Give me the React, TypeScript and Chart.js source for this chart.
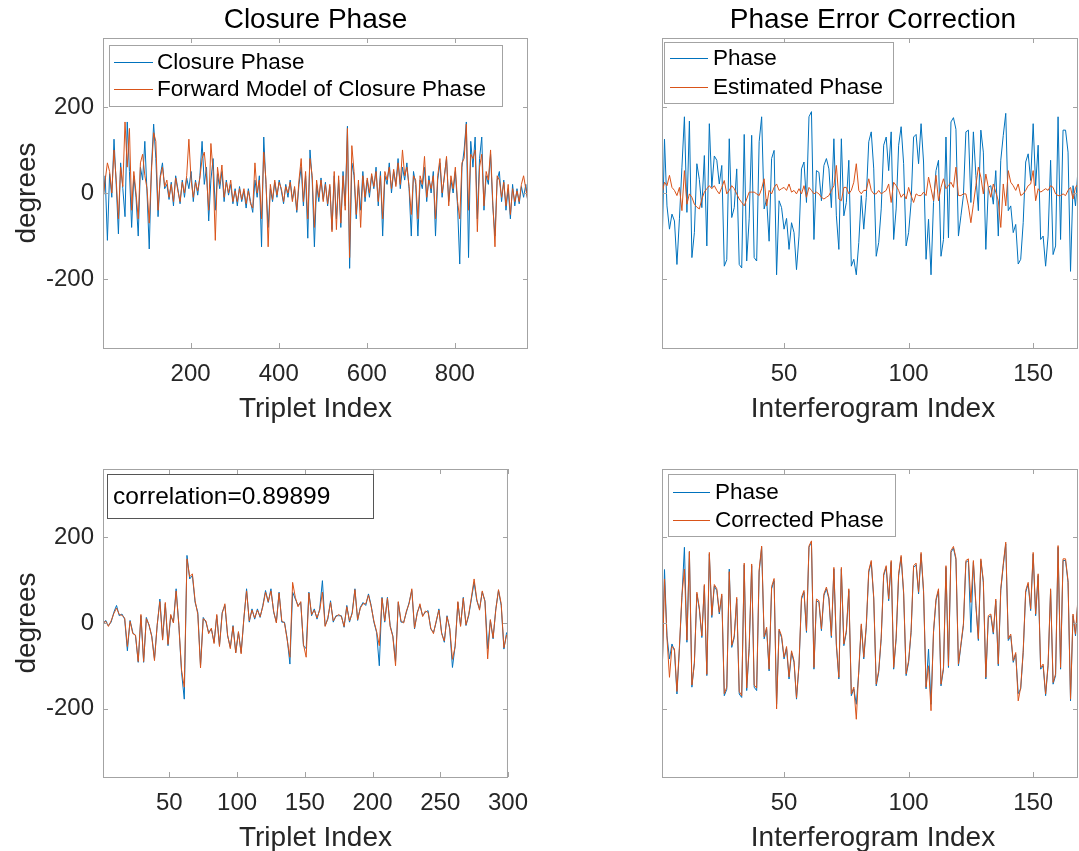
import React, { useEffect, useRef } from 'react';
import { Chart, registerables } from 'chart.js';

Chart.register(...registerables);

const BLUE = '#0072BD';
const ORANGE = '#D95319';
const AXIS = '#a3a3a3';
const FONT = '"Liberation Sans", Arial, Helvetica, sans-serif';

// ---------- Titles / labels ----------
const titleLeft = 'Closure Phase';
const titleRight = 'Phase Error Correction';
const xLabelLeft = 'Triplet Index';
const xLabelRight = 'Interferogram Index';
const yLabel = 'degrees';
const correlationText = 'correlation=0.89899';

// ---------- Tick values ----------
const yTickValues = [-200, 0, 200];
const tripletTicks = [200, 400, 600, 800];
const tripletTicks300 = [50, 100, 150, 200, 250, 300];
const ifgTicks = [50, 100, 150];

// ---------- Top-left: closure phase over all triplets (every 5th triplet, 1..966) ----------
const tripletStep = 5;
const closurePhaseAll = [
  -20, 40, -110, 45, -10, 125, 20, -95, 70, 10,
  -55, 165, 50, -80, 40, -10, -100, 60, 30, 120,
  0, -130, 60, 160, 80, -55, 40, 70, 10, 20,
  -15, 25, -30, 40, 10, -25, 30, -10, 35, 10,
  50, -20, 30, -5, 40, 120, 20, 60, -65, 30,
  80, -40, 45, 10, 50, -20, 30, -5, 20, -25,
  10, -30, 15, -20, 5, -35, 10, -20, -45, 30,
  -10, 40, -125, 130, 20, -80, 10, -20, 25, -10,
  30, 5, -25, 20, -10, 30, -15, 10, -45, 20,
  60, -30, 40, -105, 100, 30, -125, 20, -20, 35,
  -15, 25, -30, 15, -85, 40, -60, 30, -80, 50,
  -30, 155, -175, 70, 40, -60, 20, -40, 50, -20,
  30, -10, 40, 10, 60, -30, 50, -100, 40, 20,
  70, 0, 50, 20, 80, 10, 60, 30, 70, 10,
  -100, 50, 20, -100, 30, 10, 60, -20, 40, 0,
  50, -100, 30, 70, -10, 40, 80, -20, 30, 0,
  50, -30, -165, 60, 100, 165, -150, 120, 60, 130,
  -60, 80, 130, -40, 40, 20, 90, -30, -100, 30,
  50, -20, 30, -40, 10, -60, 20, -30, 10, -25,
  15, -10, 20, -25,
];
const forwardModelAll = [
  -15, 30, 70, 50, 0, 100, 30, -60, 60, 15,
  165, 60, 150, -40, 50, 0, -60, 70, 90, 40,
  10, -70, 50, 140, 120, -40, 35, 60, 15, 30,
  -10, 20, -20, 35, 5, -20, 25, 0, 40, 125,
  30, -10, 25, 5, 35, 80, 95, 40, -40, 115,
  50, -110, 60, 20, 65, -10, 25, 0, 30, -20,
  5, -20, 10, -15, 10, -25, 5, -25, -35, 70,
  0, 30, -60, 95, 30, -125, 20, -15, 30, -5,
  25, 10, -20, 15, 0, 25, -20, 15, -40, 30,
  80, -20, 50, -60, 80, 40, -80, 30, -10, 30,
  -20, 20, -25, 20, -90, 50, -85, 40, -70, 40,
  -40, 150, -150, 110, 50, -50, 30, -80, 40, -10,
  35, 0, 45, 15, 50, -20, 40, -60, 50, 30,
  60, 10, 55, 15, 70, 20, 100, 40, 60, 15,
  -50, 40, 30, -60, 40, 20, 85, -10, 30, 10,
  40, -60, 40, 80, 0, 35, 85, -30, 40, 10,
  60, -20, -60, 70, 80, 160, -40, 90, 80, 100,
  -90, 60, 90, -30, 50, 30, 100, -20, -125, 40,
  30, -10, 25, -30, 20, -50, 10, -20, 5, -20,
  20, 40, 10, -20,
];

// ---------- Bottom-left: first 300 triplets (every 2nd triplet) ----------
const tripletStep300 = 2;
const closurePhase300 = [
  -2, 6, -6, 2, 25, 41, 17, 21, 9, -65,
  6, -22, -30, -92, 17, -92, 13, -6, -30, -84,
  -6, 56, -37, 45, -53, 17, 2, 80, -6, -115,
  -178, 158, 103, 111, 48, 25, -100, 13, 2, -22,
  -14, -45, 17, -53, 25, 41, -30, -57, -6, -69,
  -22, -69, 9, 80, 2, 33, 9, 33, 13, 41,
  76, 48, 80, 25, 2, 72, 2, 2, -37, -96,
  72, 56, 41, 48, -53, -60, 72, 17, 33, 9,
  33, 99, -6, 9, 52, 2, 17, 17, 17, -10,
  41, 2, 25, 80, 6, 37, 48, 41, 68, 41,
  2, -22, -100, 60, 2, 60, -6, -30, -90, 48,
  2, 2, 25, 48, 76, -14, 25, 41, 17, 25,
  29, -14, -22, 2, 33, -22, -45, 17, -14, -104,
  -53, 48, -6, 60, -6, 17, 56, 95, 52, 33,
  72, 52, -60, 6, -37, 33, 76, 41, -61, -22,
];
const forwardModel300 = [
  0, 4, -8, 5, 22, 35, 20, 18, 12, -55,
  4, -25, -28, -90, 20, -90, 10, -4, -32, -88,
  -4, 50, -40, 48, -50, 20, 0, 75, -4, -110,
  -150, 150, 108, 115, 52, 20, -105, 10, 5, -25,
  -12, -48, 20, -55, 22, 45, -28, -60, -8, -70,
  -20, -72, 12, 75, 5, 30, 12, 30, 15, 38,
  72, 50, 75, 28, 0, 70, 5, 0, -40, -80,
  95, 60, 38, 50, -50, -80, 70, 20, 30, 12,
  30, 72, -8, 12, 48, 5, 15, 20, 15, -8,
  38, 5, 22, 78, 8, 35, 45, 45, 65, 38,
  5, -20, -53, 58, 5, 58, -8, -32, -100, 50,
  5, 0, 28, 45, 80, -12, 22, 45, 15, 28,
  25, -12, -25, 5, 30, -25, -42, 15, -12, -85,
  -55, 50, -8, 58, -4, 20, 60, 103, 55, 30,
  75, 50, -84, 8, -35, 30, 78, 45, -58, -28,
];

// ---------- Right column: interferogram phases (1..168) ----------
const phase = [
  -139, 125, -30, -84, -49, -65, -166, -60, 60, 177,
  -45, 167, -150, -92, 68, 31, -34, 87, -123, 161,
  13, 86, 76, 21, 64, -170, -155, 126, -57, -34,
  56, -166, -174, 136, -158, -60, 134, -150, -158, 119,
  177, -37, -14, -112, 80, 99, -190, -18, -34, -84,
  -59, -131, -69, -92, -178, -100, 56, 72, -22, 177,
  189, -108, 52, 48, -18, 64, 80, 56, -34, 126,
  -53, -131, 126, -53, -22, 76, -170, -154, -190, -115,
  -6, -84, -10,
  119, 142, 56, -147, -115, -37, 111, 130, 52, 142,
  -108, -37, 111, 154, 68, -123, -92, -22, 130, 136,
  68, 161, 72, -154, -61, -190, -22, 52, 76, -147,
  -108, 130, -104, 165, 175, 148, -100, -53, -6, 142,
  146, -22, 142, 41, -41, 146, 95, -131, 13, 17,
  -26, 52, -100, 76, 134, 185, -41, -30, -92, -73,
  -165, -154, -69, 72, 91, 29, 161, 17, 111, -108,
  -100, -170, -100, 76, -143, -123, 177, -108, 146, 146,
  95, -182, 17, -30, 56,
];
const estimatedPhase = [
  -2, 25, 17, 41, 13, 6, -6, 13, -41, 52,
  -26, -2, -10, -26, -33, -37, -14, 2, 10, 17,
  10, 17, 6, -2, 13, 29, -2, 6, 17, 10,
  -2, -14, -22, -30, -14, 2, 2, 2, -2, -6,
  10, 33, -30, 6, -2, 13, 21, 6, 10, 13,
  6, 21, 2, 6, -2, 10, -2, 17, -10, 13,
  6, -2, 2, -2, -10, -14, -10, -6, 6, 17,
  64, -14, -18, 13, 13, -2, 6, 25, 68, 6,
  -2, 6, 6,
  33, 6, -2, -2, 6, -2, 2, 6, 21, -22,
  25, 17, 6, -10, -2, -14, 13, -6, -22, -2,
  -6, -6, 2, -6, 37, 10, -18, 41, -18, 13,
  33, 10, 17, 25, 13, 60, -6, -6, -2, -2,
  -30, -69, -26, 17, 60, 37, -2, 44, 13, -10,
  21, 2, -18, -80, 21, -30, 52, 25, 17, 6,
  21, -6, -2, 6, 17, 21, 52, -18, 10, 2,
  6, 10, 6, 17, 13, -2, -6, -6, -2, -6,
  6, 13, -14, 13, 21,
];
const correctedPhase = [
  -135, 103, -35, -127, -55, -60, -160, -55, 65, 126,
  -40, 167, -145, -95, 72, 35, -30, 90, -120, 165,
  18, 90, 80, 25, 68, -165, -150, 120, -52, -30,
  60, -160, -170, 140, -152, -55, 138, -145, -152, 124,
  180, -32, -10, -108, 85, 104, -201, -14, -30, -80,
  -55, -126, -65, -88, -175, -96, 60, 76, -18, 180,
  192, -104, 56, 52, -14, 68, 84, 60, -30, 130,
  -49, -127, 130, -49, -18, 80, -166, -150, -225, -110,
  -2, -80, -6,
  123, 146, 60, -143, -111, -33, 115, 134, 56, 146,
  -104, -33, 115, 158, 72, -119, -88, -18, 134, 140,
  72, 165, 76, -150, -100, -205, -18, 56, 80, -143,
  -104, 134, -100, 169, 179, 152, -96, -49, -2, 146,
  150, 48, 146, 45, -37, 150, 99, -127, 17, 21,
  -22, 56, -96, 80, 138, 189, -37, -26, -88, -69,
  -182, -150, -65, 76, 95, 33, 165, 21, 115, -104,
  -96, -166, -96, 80, -139, -119, 181, -104, 150, 150,
  99, -178, 21, -26, 60,
];

const toPoints = (vals: number[], start: number, step: number) =>
  vals.map((v, k) => ({ x: start + k * step, y: v }));

// ---------- Decoration plugin (MATLAB-like box, inward ticks, texts, legend) ----------
const decoPlugin = {
  id: 'deco',
  afterDraw(chart: any, _args: any, o: any) {
    const { ctx, chartArea: a, scales } = chart;
    ctx.save();
    ctx.lineWidth = 1;
    ctx.strokeStyle = AXIS;
    const tl = 5;
    ctx.beginPath();
    for (const v of o.xTicks) {
      const px = Math.round(scales.x.getPixelForValue(v)) + 0.5;
      ctx.moveTo(px, a.bottom); ctx.lineTo(px, a.bottom - tl);
      ctx.moveTo(px, a.top); ctx.lineTo(px, a.top + tl);
    }
    for (const v of o.yTicks) {
      const py = Math.round(scales.y.getPixelForValue(v)) + 0.5;
      ctx.moveTo(a.left, py); ctx.lineTo(a.left + tl, py);
      ctx.moveTo(a.right, py); ctx.lineTo(a.right - tl, py);
    }
    ctx.stroke();
    ctx.strokeRect(a.left + 0.5, a.top + 0.5, a.right - a.left - 1, a.bottom - a.top);

    ctx.textAlign = 'center';
    ctx.textBaseline = 'alphabetic';
    if (o.title) {
      ctx.fillStyle = '#000';
      ctx.font = `28px ${FONT}`;
      ctx.fillText(o.title, o.titleX, o.titleY);
    }
    ctx.fillStyle = '#262626';
    ctx.font = `28px ${FONT}`;
    ctx.fillText(o.xlabel, o.xlabelX, o.xlabelY);
    if (o.ylabel) {
      ctx.save();
      ctx.translate(o.ylabelX, o.ylabelY);
      ctx.rotate(-Math.PI / 2);
      ctx.textBaseline = 'middle';
      ctx.fillText(o.ylabel, 0, 0);
      ctx.restore();
    }

    if (o.legend) {
      const L = o.legend;
      ctx.fillStyle = '#fff';
      ctx.fillRect(L.x0, L.y0, L.x1 - L.x0, L.y1 - L.y0);
      ctx.strokeStyle = AXIS;
      ctx.strokeRect(L.x0 + 0.5, L.y0 + 0.5, L.x1 - L.x0, L.y1 - L.y0);
      ctx.font = `22.5px ${FONT}`;
      ctx.textAlign = 'left';
      ctx.textBaseline = 'middle';
      L.items.forEach((di: number, i: number) => {
        const ds = chart.data.datasets[di];
        const y = L.rows[i];
        ctx.strokeStyle = ds.borderColor;
        ctx.beginPath();
        ctx.moveTo(L.lx0, y + 0.5); ctx.lineTo(L.lx1, y + 0.5);
        ctx.stroke();
        ctx.fillStyle = '#000';
        ctx.fillText(ds.label, L.tx, y + 1);
      });
    }
    if (o.textBox) {
      const T = o.textBox;
      ctx.fillStyle = '#fff';
      ctx.fillRect(T.x0, T.y0, T.x1 - T.x0, T.y1 - T.y0);
      ctx.strokeStyle = '#555';
      ctx.strokeRect(T.x0 + 0.5, T.y0 + 0.5, T.x1 - T.x0, T.y1 - T.y0);
      ctx.font = `24.5px ${FONT}`;
      ctx.fillStyle = '#000';
      ctx.textAlign = 'left';
      ctx.textBaseline = 'middle';
      ctx.fillText(T.text, T.tx, T.ty);
    }
    ctx.restore();
  },
};

type Spec = {
  left: number; top: number; width: number; height: number;
  area: { left: number; top: number; right: number; bottom: number };
  xMin: number; xMax: number; xTicks: number[]; yLabels: boolean;
  series: { label: string; data: { x: number; y: number }[]; color: string; order: number }[];
  deco: any;
};

function buildConfig(s: Spec): any {
  return {
    type: 'line',
    data: {
      datasets: s.series.map((d) => ({
        label: d.label,
        data: d.data,
        borderColor: d.color,
        backgroundColor: d.color,
        borderWidth: 1,
        pointRadius: 0,
        tension: 0,
        fill: false,
        order: d.order,
      })),
    },
    options: {
      animation: false,
      responsive: false,
      maintainAspectRatio: false,
      events: [],
      layout: {
        padding: { left: 0, top: s.area.top, right: s.width - s.area.right, bottom: 0 },
      },
      plugins: {
        legend: { display: false },
        tooltip: { enabled: false },
        title: { display: false },
        deco: { ...s.deco, xTicks: s.xTicks, yTicks: yTickValues },
      },
      scales: {
        x: {
          type: 'linear',
          min: s.xMin,
          max: s.xMax,
          grid: { display: false, drawTicks: false },
          border: { display: false },
          afterBuildTicks: (sc: any) => { sc.ticks = s.xTicks.map((v) => ({ value: v })); },
          afterFit: (sc: any) => { sc.height = s.height - s.area.bottom; },
          ticks: {
            font: { size: 24, family: FONT },
            color: '#262626',
            padding: 12,
            maxRotation: 0,
            autoSkip: false,
            callback: (v: any) => String(v),
          },
        },
        y: {
          type: 'linear',
          min: -360,
          max: 360,
          grid: { display: false, drawTicks: false },
          border: { display: false },
          afterBuildTicks: (sc: any) => { sc.ticks = yTickValues.map((v) => ({ value: v })); },
          afterFit: (sc: any) => { sc.width = s.area.left; },
          ticks: {
            display: s.yLabels,
            font: { size: 24, family: FONT },
            color: '#262626',
            padding: 9,
            autoSkip: false,
            callback: (v: any) => String(v),
          },
        },
      },
    },
    plugins: [decoPlugin],
  };
}

function Panel({ spec }: { spec: Spec }) {
  const ref = useRef<HTMLCanvasElement | null>(null);
  useEffect(() => {
    if (!ref.current) return;
    const chart = new Chart(ref.current, buildConfig(spec));
    return () => chart.destroy();
  }, []);
  return (
    <canvas
      ref={ref}
      width={spec.width}
      height={spec.height}
      style={{ position: 'absolute', left: spec.left, top: spec.top, width: spec.width, height: spec.height }}
    />
  );
}

const specs: Spec[] = [
  {
    left: 0, top: 0, width: 540, height: 430,
    area: { left: 103, top: 38, right: 528, bottom: 348 },
    xMin: 1, xMax: 966, xTicks: tripletTicks, yLabels: true,
    series: [
      { label: 'Closure Phase', data: toPoints(closurePhaseAll, 1, tripletStep), color: BLUE, order: 1 },
      { label: 'Forward Model of Closure Phase', data: toPoints(forwardModelAll, 1, tripletStep), color: ORANGE, order: 0 },
    ],
    deco: {
      title: titleLeft, titleX: 315.5, titleY: 28,
      xlabel: xLabelLeft, xlabelX: 315.5, xlabelY: 417,
      ylabel: yLabel, ylabelX: 27, ylabelY: 193,
      legend: { x0: 109, y0: 45, x1: 502, y1: 106, rows: [62, 89], lx0: 114, lx1: 153, tx: 157, items: [0, 1] },
    },
  },
  {
    left: 540, top: 0, width: 539, height: 430,
    area: { left: 122, top: 38, right: 538, bottom: 348 },
    xMin: 1, xMax: 168, xTicks: ifgTicks, yLabels: false,
    series: [
      { label: 'Phase', data: toPoints(phase, 1, 1), color: BLUE, order: 1 },
      { label: 'Estimated Phase', data: toPoints(estimatedPhase, 1, 1), color: ORANGE, order: 0 },
    ],
    deco: {
      title: titleRight, titleX: 333, titleY: 28,
      xlabel: xLabelRight, xlabelX: 333, xlabelY: 417,
      legend: { x0: 124, y0: 42, x1: 353, y1: 103, rows: [58, 87], lx0: 130, lx1: 168, tx: 173, items: [0, 1] },
    },
  },
  {
    left: 0, top: 430, width: 540, height: 421,
    area: { left: 103, top: 39, right: 528, bottom: 347 },
    xMin: 1, xMax: 300, xTicks: tripletTicks300, yLabels: true,
    series: [
      { label: 'Closure Phase', data: toPoints(closurePhase300, 1, tripletStep300), color: BLUE, order: 1 },
      { label: 'Forward Model of Closure Phase', data: toPoints(forwardModel300, 1, tripletStep300), color: ORANGE, order: 0 },
    ],
    deco: {
      xlabel: xLabelLeft, xlabelX: 315.5, xlabelY: 416,
      ylabel: yLabel, ylabelX: 27, ylabelY: 193,
      textBox: { x0: 107, y0: 44, x1: 373, y1: 88, tx: 113, ty: 67, text: correlationText },
    },
  },
  {
    left: 540, top: 430, width: 539, height: 421,
    area: { left: 122, top: 39, right: 538, bottom: 347 },
    xMin: 1, xMax: 168, xTicks: ifgTicks, yLabels: false,
    series: [
      { label: 'Phase', data: toPoints(phase, 1, 1), color: BLUE, order: 1 },
      { label: 'Corrected Phase', data: toPoints(correctedPhase, 1, 1), color: ORANGE, order: 0 },
    ],
    deco: {
      xlabel: xLabelRight, xlabelX: 333, xlabelY: 416,
      legend: { x0: 128, y0: 44, x1: 355, y1: 106, rows: [62, 90], lx0: 133, lx1: 170, tx: 175, items: [0, 1] },
    },
  },
];

export default function App() {
  return (
    <div style={{ position: 'absolute', left: 0, top: 0, width: 1079, height: 851, background: '#fff', overflow: 'hidden' }}>
      {specs.map((s, i) => (
        <Panel key={i} spec={s} />
      ))}
    </div>
  );
}
